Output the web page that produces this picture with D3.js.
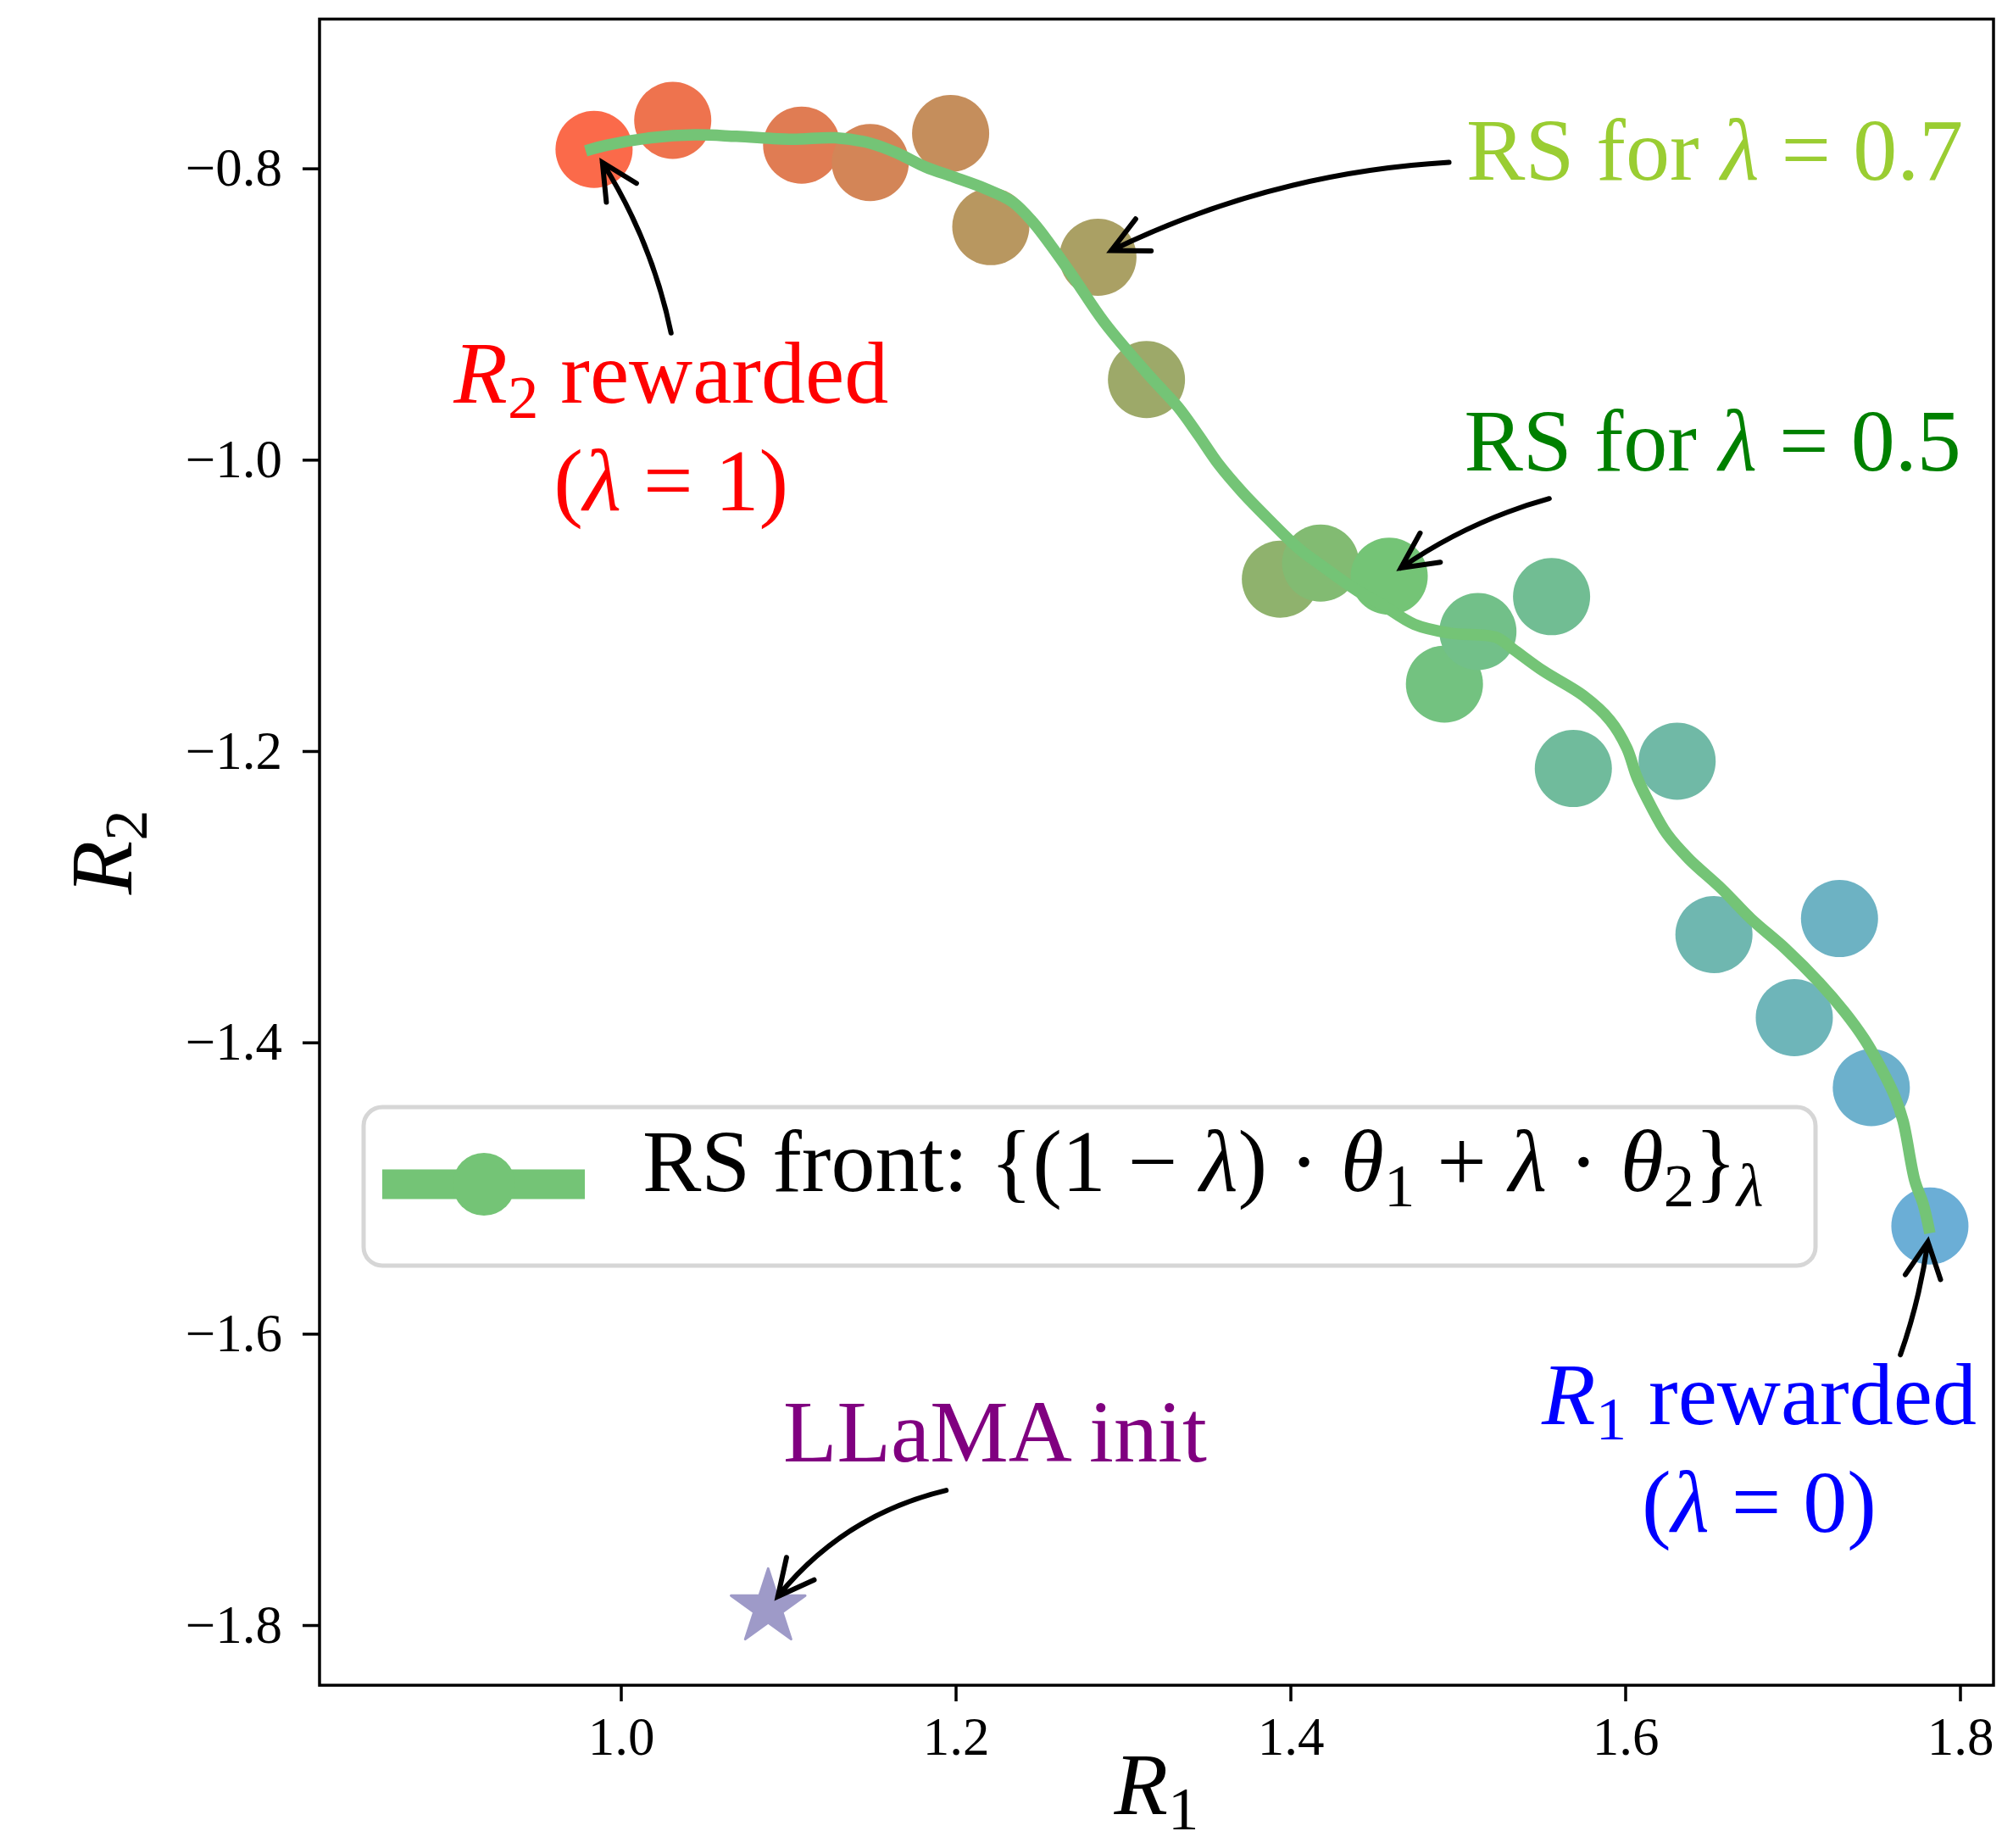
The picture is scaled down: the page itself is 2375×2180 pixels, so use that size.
<!DOCTYPE html>
<html>
<head>
<meta charset="utf-8">
<script src="https://cdn.jsdelivr.net/npm/d3@7"></script>
<style>
  body { margin: 0; background: #fff; }
  text { font-family: "Liberation Serif", "DejaVu Serif", serif; white-space: pre; }
</style>
</head>
<body>
<script>
// lambda of each fine-tuned model and its rewards (R1, R2)
const lambdas = [1.0, 0.95, 0.9, 0.85, 0.8, 0.75, 0.7, 0.65, 0.6, 0.55, 0.5,
                 0.45, 0.4, 0.35, 0.3, 0.25, 0.2, 0.15, 0.1, 0.05, 0.0];
const pointR1 = [0.984, 1.031, 1.108, 1.149, 1.197, 1.221, 1.285, 1.314, 1.394, 1.418, 1.459,
                 1.492, 1.512, 1.556, 1.569, 1.631, 1.653, 1.701, 1.728, 1.747, 1.782];
const pointR2 = [-0.787, -0.767, -0.784, -0.796, -0.776, -0.840, -0.861, -0.945, -1.082, -1.071, -1.080,
                 -1.154, -1.118, -1.094, -1.212, -1.207, -1.326, -1.383, -1.315, -1.431, -1.526];

// rewarded soup front
const frontR1 = [0.979, 0.992, 1.018, 1.044, 1.069, 1.102, 1.128, 1.150, 1.166, 1.182, 1.199,
                 1.218, 1.234, 1.247, 1.257, 1.270, 1.289, 1.317, 1.333, 1.345, 1.357, 1.371,
                 1.387, 1.405, 1.419, 1.440, 1.454, 1.474, 1.495, 1.523, 1.533, 1.551, 1.575,
                 1.591, 1.601, 1.607, 1.615, 1.625, 1.638, 1.658, 1.675, 1.696, 1.716, 1.731,
                 1.743, 1.753, 1.761, 1.766, 1.773, 1.778, 1.782];
const frontR2 = [-0.788, -0.784, -0.779, -0.777, -0.778, -0.780, -0.779, -0.783, -0.790, -0.799, -0.806,
                 -0.814, -0.823, -0.838, -0.853, -0.874, -0.906, -0.944, -0.964, -0.983, -1.003, -1.022,
                 -1.041, -1.061, -1.073, -1.090, -1.099, -1.113, -1.119, -1.122, -1.130, -1.145, -1.162,
                 -1.179, -1.198, -1.218, -1.237, -1.257, -1.274, -1.295, -1.315, -1.336, -1.359, -1.379,
                 -1.398, -1.418, -1.437, -1.454, -1.495, -1.511, -1.531];

// LLaMA init
const initR1 = 1.088;
const initR2 = -1.788;

const xTicks = [1.0, 1.2, 1.4, 1.6, 1.8];
const yTicks = [-0.8, -1.0, -1.2, -1.4, -1.6, -1.8];

// annotations: text anchor (center, baseline) and arrow tail -> tip, in data units
const notes = [
  {lines: [[{t: 'R', i: 1}, {t: '2', sub: 1}, {t: ' rewarded'}], [{t: '('}, {t: 'λ', i: 1}, {t: ' = 1)'}]],
   color: 'red', tx: 1.030, ty: -0.961, from: [1.030, -0.913], to: [0.989, -0.796], rad: 0.09},
  {lines: [[{t: 'RS for '}, {t: 'λ', i: 1}, {t: ' = 0.7'}]],
   color: 'yellowgreen', tx: 1.6535, ty: -0.8076, from: [1.4947, -0.7959], to: [1.2930, -0.8564], rad: 0.1},
  {lines: [[{t: 'RS for '}, {t: 'λ', i: 1}, {t: ' = 0.5'}]],
   color: 'green', tx: 1.6522, ty: -1.0073, from: [1.5546, -1.0267], to: [1.4660, -1.0743], rad: 0.085},
  {lines: [[{t: 'LLaMA init'}]],
   color: 'purple', tx: 1.2235, ty: -1.6878, from: [1.1943, -1.7075], to: [1.0938, -1.7803], rad: 0.17},
  {lines: [[{t: 'R', i: 1}, {t: '1', sub: 1}, {t: ' rewarded'}], [{t: '('}, {t: 'λ', i: 1}, {t: ' = 0)'}]],
   color: 'blue', tx: 1.680, ty: -1.662, from: [1.7644, -1.6144], to: [1.7808, -1.5369], rad: 0.05}
];

const width = 2375;
const height = 2180;
const margin = {top: 22.5, right: 23, bottom: 192, left: 377};
const big = 104;
const small = 63;

const x = d3.scaleLinear().domain([0.82, 1.82]).range([margin.left, width - margin.right]);
const y = d3.scaleLinear().domain([-1.8413, -0.6975]).range([height - margin.bottom, margin.top]);
const colour = d3.scaleLinear().domain([0, 0.5, 1]).range(['#6baed6', '#74c476', '#fb6a4a']);

const svg = d3.select('body').append('svg')
  .attr('width', width)
  .attr('height', height);

// text with italic parts and subscripts
function richText(parent, px, py, parts, size, colour, anchor) {
  const text = parent.append('text')
    .attr('x', px).attr('y', py)
    .attr('text-anchor', anchor)
    .attr('font-size', size)
    .attr('fill', colour);
  let shift = 0;
  parts.forEach(p => {
    const ts = text.append('tspan').text(p.t);
    if (p.i) ts.attr('font-style', 'italic');
    const want = p.sub ? size * 0.17 : 0;
    if (want !== shift) { ts.attr('dy', want - shift); shift = want; }
    if (p.sub) ts.attr('font-size', size * 0.7);
  });
  return text;
}

// axes
svg.append('g')
  .attr('transform', `translate(0, ${height - margin.bottom})`)
  .call(d3.axisBottom(x).tickValues(xTicks).tickFormat(d3.format('.1f')).tickSize(19).tickPadding(18))
  .call(g => g.select('.domain').remove())
  .call(g => g.selectAll('line').attr('stroke-width', 3.5))
  .call(g => g.selectAll('text').attr('font-size', small).attr('font-family', '"Liberation Serif", serif'));

svg.append('g')
  .attr('transform', `translate(${margin.left}, 0)`)
  .call(d3.axisLeft(y).tickValues(yTicks).tickFormat(d3.format('.1f')).tickSize(20).tickPadding(24))
  .call(g => g.select('.domain').remove())
  .call(g => g.selectAll('line').attr('stroke-width', 3.5))
  .call(g => g.selectAll('text').attr('font-size', small).attr('font-family', '"Liberation Serif", serif'));

// axis labels
richText(svg, (margin.left + width - margin.right) / 2, 2140,
  [{t: 'R', i: 1}, {t: '1', sub: 1}], big, 'black', 'middle');
richText(svg.append('g').attr('transform', `translate(155, ${(margin.top + height - margin.bottom) / 2}) rotate(-90)`),
  0, 0, [{t: 'R', i: 1}, {t: '2', sub: 1}], big, 'black', 'middle');

// scatter of fine-tuned models
svg.append('g').selectAll('circle')
  .data(lambdas)
  .join('circle')
    .attr('cx', (d, i) => x(pointR1[i]))
    .attr('cy', (d, i) => y(pointR2[i]))
    .attr('r', 45.5)
    .attr('fill', d => colour(d));

// RS front
const front = frontR1.map((v, i) => [v, frontR2[i]]);
svg.append('path')
  .datum(front)
  .attr('d', d3.line().x(d => x(d[0])).y(d => y(d[1])).curve(d3.curveCatmullRom.alpha(0.5)))
  .attr('fill', 'none')
  .attr('stroke', '#74c476')
  .attr('stroke-width', 13.5)
  .attr('stroke-linejoin', 'round');

// init star
svg.append('path')
  .attr('d', d3.symbol(d3.symbolStar, 2375)())
  .attr('transform', `translate(${x(initR1)}, ${y(initR2)})`)
  .attr('fill', '#9e9ac8')
  .attr('stroke', '#9e9ac8')
  .attr('stroke-width', 3)
  .attr('stroke-linejoin', 'round');

// annotations
const noteG = svg.append('g');
notes.forEach(n => {
  n.lines.forEach((parts, k) => {
    richText(noteG, x(n.tx), y(n.ty) + k * 127, parts, big, n.color, 'middle');
  });
  const x0 = x(n.from[0]), y0 = y(n.from[1]);
  const x1 = x(n.to[0]), y1 = y(n.to[1]);
  const dx = x1 - x0, dy = y1 - y0;
  const cx = (x0 + x1) / 2 - n.rad * dy;
  const cy = (y0 + y1) / 2 + n.rad * dx;
  const p = d3.path();
  p.moveTo(x0, y0);
  p.quadraticCurveTo(cx, cy, x1, y1);
  // arrow head "->"
  const a = Math.atan2(cy - y1, cx - x1);
  const len = 47, half = 26.5 * Math.PI / 180;
  p.moveTo(x1 + len * Math.cos(a + half), y1 + len * Math.sin(a + half));
  p.lineTo(x1, y1);
  p.lineTo(x1 + len * Math.cos(a - half), y1 + len * Math.sin(a - half));
  noteG.append('path')
    .attr('d', p.toString())
    .attr('fill', 'none')
    .attr('stroke', 'black')
    .attr('stroke-width', 6)
    .attr('stroke-linecap', 'round')
    .attr('stroke-linejoin', 'miter');
});

// frame
svg.append('rect')
  .attr('x', margin.left).attr('y', margin.top)
  .attr('width', width - margin.left - margin.right)
  .attr('height', height - margin.top - margin.bottom)
  .attr('fill', 'none')
  .attr('stroke', 'black')
  .attr('stroke-width', 3.5);

// legend
const legend = svg.append('g');
legend.append('rect')
  .attr('x', 429).attr('y', 1306)
  .attr('width', 1713).attr('height', 187)
  .attr('rx', 22)
  .attr('fill', 'white').attr('fill-opacity', 0.8)
  .attr('stroke', '#d6d6d6').attr('stroke-width', 5);
legend.append('line')
  .attr('x1', 451).attr('x2', 690)
  .attr('y1', 1397).attr('y2', 1397)
  .attr('stroke', '#74c476').attr('stroke-width', 35);
legend.append('circle')
  .attr('cx', 571).attr('cy', 1397).attr('r', 37)
  .attr('fill', '#74c476');
richText(legend, 758, 1405, [
  {t: 'RS front: {(1 − '}, {t: 'λ', i: 1}, {t: ') · '}, {t: 'θ', i: 1}, {t: '1', sub: 1},
  {t: ' + '}, {t: 'λ', i: 1}, {t: ' · '}, {t: 'θ', i: 1}, {t: '2', sub: 1}, {t: '}'},
  {t: 'λ', i: 1, sub: 1}
], big, 'black', 'start');
</script>
</body>
</html>
